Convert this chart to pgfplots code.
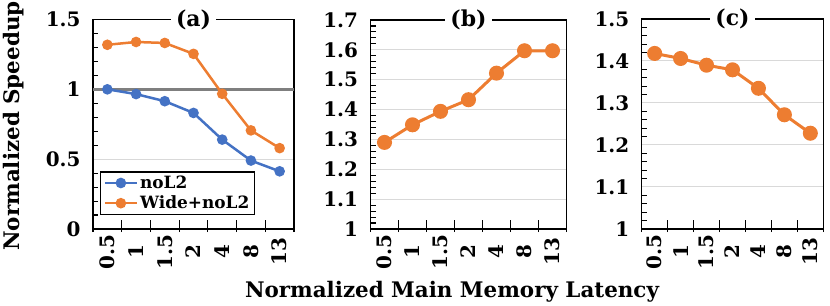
\documentclass[border=0pt]{standalone}
\usepackage{fontspec}
\setmainfont{DejaVu Serif}
\usepackage{pgfplots}
\pgfplotsset{compat=1.18}
\definecolor{cblue}{HTML}{4472C4}
\definecolor{corange}{HTML}{ED7D31}
\definecolor{cgrid}{HTML}{D9D9D9}
\definecolor{cgray}{HTML}{7F7F7F}
\pgfplotsset{
  myaxis/.style={
    scale only axis,
    anchor=south west,
    xmin=-0.5, xmax=6.5,
    xtick={-0.5,0.5,1.5,2.5,3.5,4.5,5.5,6.5},
    x tick label as interval,
    xticklabels={0.5,1,1.5,2,4,8,13},
    xticklabel style={rotate=90, anchor=center, font=\bfseries\fontsize{20}{20}\selectfont},
    xticklabel shift=23bp,
    yticklabel style={font=\bfseries\fontsize{20}{20}\selectfont},
    yticklabel shift=9bp,
    /pgf/number format/assume math mode=true,
    tick pos=left,
    tick align=inside,
    major tick length=12bp,
    minor tick length=5bp,
    major x tick style={yshift=-3bp},
    major y tick style={draw=none},
    every tick/.style={black, line width=1.1bp},
    minor y tick num=4,
    axis line style={line width=1.4bp, black},
    ymajorgrids,
    major grid style={cgrid, line width=1bp},
    legend image code/.code={\draw[mark repeat=2, mark phase=2, #1] plot coordinates {(0bp,0bp) (16bp,0bp) (32bp,0bp)};},
  },
}
\tikzset{ttl/.style={fill=white, inner xsep=5bp, inner ysep=1bp, font=\bfseries\fontsize{22}{22}\selectfont}}
\begin{document}
\begin{tikzpicture}
\useasboundingbox (0bp,0bp) rectangle (830bp,306bp);
% (a)
\begin{axis}[myaxis, name=pa, at={(93bp,77bp)}, width=201bp, height=209.5bp,
  ymin=0, ymax=1.5, ytick={0,0.5,1,1.5},
  legend style={at={(0.035,0.067)}, anchor=south west, draw=black, line width=1.2bp,
    font=\bfseries\fontsize{17}{20}\selectfont, inner xsep=3bp, inner ysep=2bp, row sep=2bp},
  legend cell align=left]
\addplot[cgray, line width=2.5bp, forget plot] coordinates {(-0.5,1) (6.5,1)};
\addplot[cblue, line width=2.5bp, mark=*, mark size=4bp] coordinates {
(0,1.00) (1,0.966) (2,0.915) (3,0.831) (4,0.640) (5,0.490) (6,0.413)};
\addlegendentry{noL2}
\addplot[corange, line width=2.5bp, mark=*, mark size=4bp] coordinates {
(0,1.319) (1,1.339) (2,1.332) (3,1.254) (4,0.968) (5,0.706) (6,0.579)};
\addlegendentry{Wide+noL2}
\end{axis}
\node[ttl] at (pa.north) {(a)};
% (b)
\begin{axis}[myaxis, name=pb, at={(370.5bp,77bp)}, width=196bp, height=209bp,
  ymin=1, ymax=1.7, ytick={1,1.1,1.2,1.3,1.4,1.5,1.6,1.7},
  yticklabel style={/pgf/number format/fixed}]
\addplot[corange, line width=3bp, mark=*, mark size=6bp] coordinates {
(0,1.29) (1,1.349) (2,1.394) (3,1.433) (4,1.522) (5,1.597) (6,1.597)};
\end{axis}
\node[ttl] at (pb.north) {(b)};
% (c)
\begin{axis}[myaxis, name=pc, at={(641.7bp,77bp)}, width=181.6bp, height=210bp,
  ymin=1, ymax=1.5, ytick={1,1.1,1.2,1.3,1.4,1.5}]
\addplot[corange, line width=3bp, mark=*, mark size=6bp] coordinates {
(0,1.418) (1,1.406) (2,1.390) (3,1.379) (4,1.335) (5,1.272) (6,1.228)};
\end{axis}
\node[ttl] at (pc.north) {(c)};
% axis titles
\node[rotate=90, font=\bfseries\fontsize{21.5}{21.5}\selectfont] at (14bp,180bp) {Normalized Speedup};
\node[font=\bfseries\fontsize{21.5}{21.5}\selectfont] at (452bp,14bp) {Normalized Main Memory Latency};
\end{tikzpicture}
\end{document}
